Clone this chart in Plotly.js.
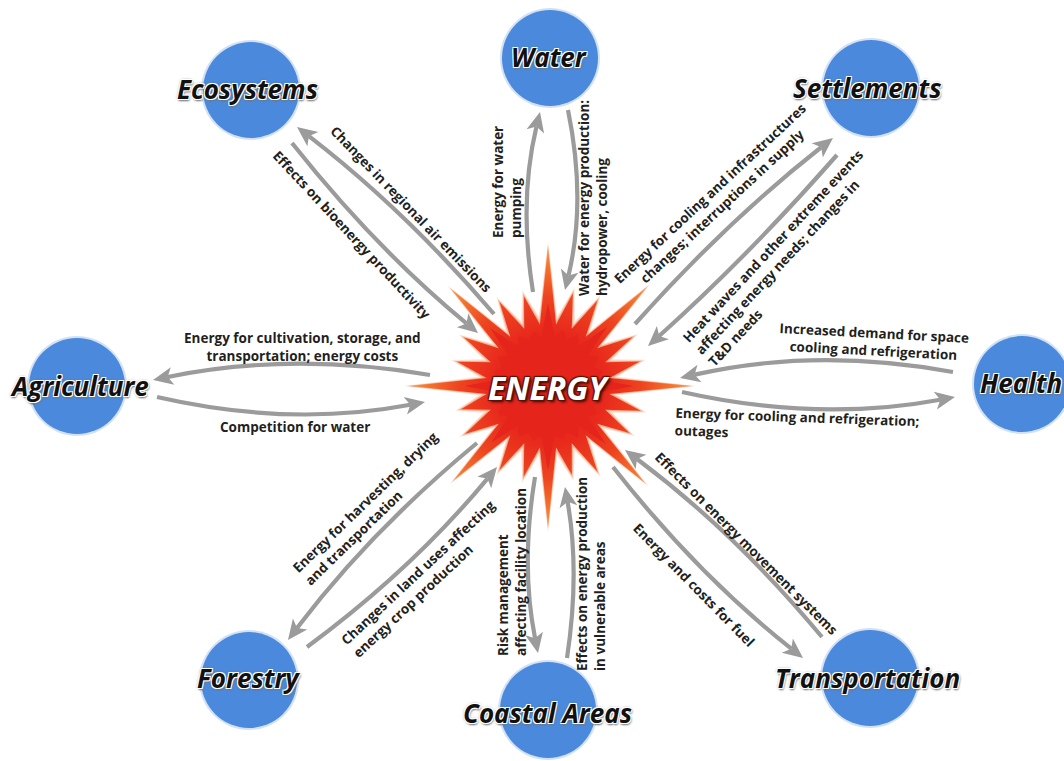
<!DOCTYPE html>
<html>
<head>
<meta charset="utf-8">
<script src="https://cdn.plot.ly/plotly-3.0.1.min.js"></script>
<style>
html,body{margin:0;padding:0;background:#ffffff;}
#chart{width:1064px;height:761px;}
</style>
</head>
<body>
<div id="chart"></div>
<script>
// ---------- Nodes (sectors around the energy hub) ----------
const nodeNames = ['Water', 'Settlements', 'Health', 'Transportation', 'Coastal Areas', 'Forestry', 'Agriculture', 'Ecosystems'];
const nodeX = [550, 871, 1022, 870, 548, 249, 77, 251];
const nodeY = [58, 88, 384, 678, 710, 680, 386, 90];
const nodeLabelX = [549, 867, 1021, 867, 547, 248, 79, 247];
const nodeLabelY = [57, 88, 383, 678, 713, 678, 386, 89];
const nodeRadius = 48;

// ---------- Energy hub ----------
const hubLabel = 'ENERGY';
const hubX = 548;
const hubY = 386;
const spikeAngles = [0, 15, 30, 45, 60, 75, 90, 105, 120, 135, 150, 165, 180, 195, 210, 225, 240, 255, 270, 285, 300, 315, 330, 345];
const spikeLengths = [142, 96, 94, 136, 99, 92, 140, 94, 97, 133, 96, 90, 138, 94, 97, 136, 97, 93, 138, 96, 99, 139, 98, 95];
const valleyRadius = 62;

// ---------- Links (arrows) ----------
const linkLabels = [
  'Changes in regional air emissions',
  'Effects on bioenergy productivity',
  'Energy for water<br>pumping',
  'Water for energy production:<br>hydropower, cooling',
  'Energy for cooling and infrastructures<br>changes; interruptions in supply',
  'Heat waves and other extreme events<br>affecting energy needs; changes in<br>T&amp;D needs',
  'Energy for cultivation, storage, and<br>transportation; energy costs',
  'Competition for water',
  'Increased demand for space<br>cooling and refrigeration',
  'Energy for cooling and refrigeration;<br>outages',
  'Effects on energy movement systems',
  'Energy and costs for fuel',
  'Risk management<br>affecting facility location',
  'Effects on energy production<br>in vulnerable areas',
  'Energy for harvesting, drying<br>and transportation',
  'Changes in land uses affecting<br>energy crop production'
];
const linkStartX = [494, 292, 533, 568, 635, 837, 430, 157, 953, 682, 822, 613, 535, 567, 477, 307];
const linkStartY = [314, 143, 292, 110, 324, 155, 375, 397, 372, 392, 637, 467, 477, 658, 443, 647];
const linkEndX   = [297, 478, 540, 565, 833, 648, 153, 425, 680, 955, 625, 803, 538, 565, 288, 497];
const linkEndY   = [127, 333, 112, 290, 138, 346, 380, 402, 378, 397, 450, 658, 653, 487, 640, 467];
const linkBend   = [7, 7, -9, -10, -6, -4, 13, 14, 14, 14, 8, 8, 8, 7, 8, 8];

const labelX     = [411, 352, 507, 593, 716, 785, 302, 295, 874, 797, 746, 694, 512, 591, 371, 424];
const labelY     = [209, 235, 182, 198, 200, 258, 347, 427, 342, 426, 543, 585, 572, 574, 509, 579];
const labelAngle = [46, 47, -90, -90, -43, -47, 0, 0, 3, 2, 45, 45.5, -90, -90, -44, -43];
const labelAlign = ['center', 'center', 'left', 'left', 'center', 'left', 'center', 'center', 'center', 'left', 'center', 'center', 'left', 'left', 'left', 'left'];

// ---------- Styling ----------
const circleColor = '#4a89dc';
const arrowColor = '#9b9b9b';
const headLen = 20;
const headHalf = 9;

const shapes = [];
const annotations = [];
const traces = [];

// Star (energy burst) built from spike readings
function starPath(scaleTip, addTip, addValley) {
  const xs = [], ys = [];
  for (let i = 0; i < spikeAngles.length; i++) {
    const a = spikeAngles[i] * Math.PI / 180;
    const L = spikeLengths[i] * scaleTip + addTip;
    xs.push(hubX + L * Math.cos(a));
    ys.push(hubY + L * Math.sin(a));
    const step = (i + 1 < spikeAngles.length ? spikeAngles[i + 1] : spikeAngles[0] + 360) - spikeAngles[i];
    const v = (spikeAngles[i] + step / 2) * Math.PI / 180;
    const R = valleyRadius + addValley;
    xs.push(hubX + R * Math.cos(v));
    ys.push(hubY + R * Math.sin(v));
  }
  xs.push(xs[0]); ys.push(ys[0]);
  return {xs, ys};
}

const glow = starPath(1, 6, 8);
traces.push({type: 'scatter', x: glow.xs, y: glow.ys, mode: 'lines', fill: 'toself',
  fillcolor: 'rgba(247,140,80,0.25)', line: {width: 0, color: 'rgba(0,0,0,0)'}, hoverinfo: 'skip'});
const glow2 = starPath(1, 3, 4);
traces.push({type: 'scatter', x: glow2.xs, y: glow2.ys, mode: 'lines', fill: 'toself',
  fillcolor: 'rgba(245,110,55,0.45)', line: {width: 0, color: 'rgba(0,0,0,0)'}, hoverinfo: 'skip'});
const main = starPath(1, 0, 0);
traces.push({type: 'scatter', x: main.xs, y: main.ys, mode: 'lines', fill: 'toself',
  fillcolor: '#ee4a22',
  fillgradient: {type: 'radial', colorscale: [[0, '#e5231b'], [0.4, '#e8291c'], [0.65, '#ed4420'], [0.88, '#f4762e'], [1, '#f7984f']]},
  line: {width: 0, color: 'rgba(0,0,0,0)'}, hoverinfo: 'skip'});
const core = starPath(0.6, 0, -12);
traces.push({type: 'scatter', x: core.xs, y: core.ys, mode: 'lines', fill: 'toself',
  fillcolor: '#e5241b', line: {width: 0, color: 'rgba(0,0,0,0)'}, hoverinfo: 'skip'});

// Node circles
for (let i = 0; i < nodeNames.length; i++) {
  const cx = nodeX[i], cy = nodeY[i];
  shapes.push({type: 'circle', xref: 'x', yref: 'y', layer: 'above',
    x0: cx - nodeRadius - 2, x1: cx + nodeRadius + 2, y0: cy - nodeRadius - 2, y1: cy + nodeRadius + 2,
    fillcolor: 'rgba(74,137,220,0.25)', line: {width: 0}});
  shapes.push({type: 'circle', xref: 'x', yref: 'y', layer: 'above',
    x0: cx - nodeRadius, x1: cx + nodeRadius, y0: cy - nodeRadius, y1: cy + nodeRadius,
    fillcolor: circleColor, line: {width: 0}});
}

// Arrows
for (let i = 0; i < linkLabels.length; i++) {
  const x0 = linkStartX[i], y0 = linkStartY[i], x1 = linkEndX[i], y1 = linkEndY[i];
  const dx = x1 - x0, dy = y1 - y0, len = Math.hypot(dx, dy);
  const nx = -dy / len, ny = dx / len;
  const cx = (x0 + x1) / 2 + nx * 2 * linkBend[i];
  const cy = (y0 + y1) / 2 + ny * 2 * linkBend[i];
  let tx = x1 - cx, ty = y1 - cy;
  const tl = Math.hypot(tx, ty); tx /= tl; ty /= tl;
  const ex = x1 - tx * (headLen - 5), ey = y1 - ty * (headLen - 5);
  shapes.push({type: 'path', xref: 'x', yref: 'y', layer: 'above',
    path: `M ${x0},${y0} Q ${cx},${cy} ${ex},${ey}`,
    line: {color: arrowColor, width: 4.2}});
  const bx = x1 - tx * headLen, by = y1 - ty * headLen;
  const px = -ty, py = tx;
  shapes.push({type: 'path', xref: 'x', yref: 'y', layer: 'above',
    path: `M ${x1},${y1} L ${bx + px * headHalf},${by + py * headHalf} L ${x1 - tx * (headLen - 5)},${y1 - ty * (headLen - 5)} L ${bx - px * headHalf},${by - py * headHalf} Z`,
    fillcolor: arrowColor, line: {width: 0}});

  annotations.push({xref: 'x', yref: 'y', x: labelX[i], y: labelY[i], text: linkLabels[i],
    showarrow: false, textangle: labelAngle[i], align: labelAlign[i],
    xanchor: 'center', yanchor: 'middle',
    font: {family: 'Open Sans, DejaVu Sans, sans-serif', size: 13.5, color: '#231f20', weight: 700}});
}

// Node labels
const nodeShadow = '-1px -1px 0 #fff, 1px -1px 0 #fff, -1px 1px 0 #fff, 1px 1px 0 #fff, 0 0 3px #666, 1px 2px 2px #777';
for (let i = 0; i < nodeNames.length; i++) {
  annotations.push({xref: 'x', yref: 'y', x: nodeLabelX[i], y: nodeLabelY[i], text: nodeNames[i],
    showarrow: false, xanchor: 'center', yanchor: 'middle',
    font: {family: 'Open Sans, DejaVu Sans, sans-serif', size: 26, color: '#111111', weight: 700, style: 'italic', shadow: nodeShadow}});
}

// Hub label
annotations.push({xref: 'x', yref: 'y', x: hubX, y: hubY + 1, text: hubLabel, showarrow: false,
  xanchor: 'center', yanchor: 'middle',
  font: {family: 'Open Sans, DejaVu Sans, sans-serif', size: 32, color: '#ffffff', weight: 700, style: 'italic',
    shadow: '-1px -1px 1px #5a1208, 1px -1px 1px #5a1208, -1px 1px 1px #5a1208, 1px 1px 1px #5a1208, 2px 2px 3px #3a0a04'}});

const layout = {
  width: 1064, height: 761,
  margin: {l: 0, r: 0, t: 0, b: 0, pad: 0},
  paper_bgcolor: '#ffffff', plot_bgcolor: '#ffffff',
  showlegend: false,
  xaxis: {range: [0, 1064], visible: false, fixedrange: true},
  yaxis: {range: [761, 0], visible: false, fixedrange: true},
  shapes: shapes,
  annotations: annotations
};

Plotly.newPlot('chart', traces, layout, {staticPlot: true, displayModeBar: false});
</script>
</body>
</html>
